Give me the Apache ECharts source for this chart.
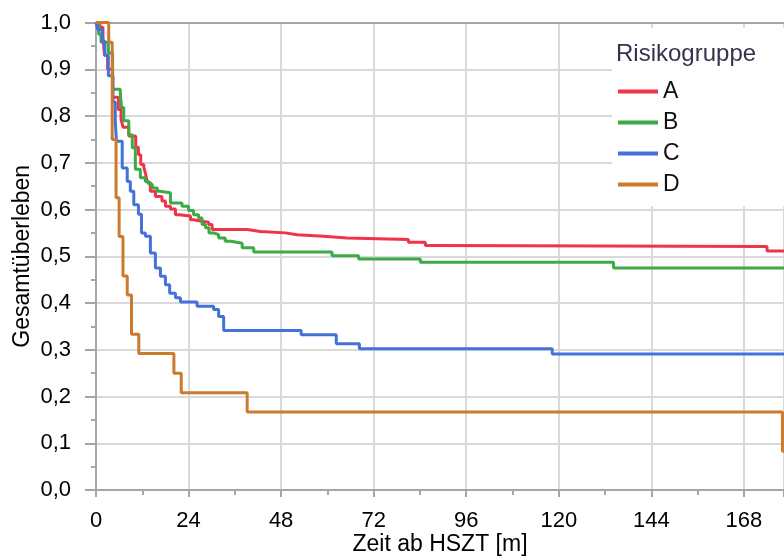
<!DOCTYPE html>
<html>
<head>
<meta charset="utf-8">
<script src="https://cdn.jsdelivr.net/npm/echarts@6/dist/echarts.min.js"></script>
<style>
html,body{margin:0;padding:0;background:#fff;}
#chart{width:784px;height:558px;}
</style>
</head>
<body>
<div id="chart"></div>
<script>
// ---- data (months, survival probability) ----
const groups = ['A', 'B', 'C', 'D'];
const xTicks = [0, 24, 48, 72, 96, 120, 144, 168];

const timeA = [0, 1.0, 1.8, 2.2, 3.0, 4.3, 5.8, 6.5, 7.0, 8.5, 10.3, 11.0, 11.6, 12.4, 12.9, 13.3, 14.1, 15.4, 17.1, 18.0, 19.3, 20.6, 21.5, 24.5, 25.3, 27.5, 29.2, 30.1, 39.2, 42.6, 49.1, 52.1, 59.0, 65.1, 81.0, 85.4, 88.4, 174.0, 178.4];
const survA = [1.0, 0.99, 0.97, 0.93, 0.90, 0.84, 0.814, 0.793, 0.776, 0.757, 0.733, 0.717, 0.696, 0.69, 0.675, 0.658, 0.639, 0.628, 0.618, 0.607, 0.601, 0.589, 0.586, 0.578, 0.575, 0.573, 0.568, 0.557, 0.553, 0.55, 0.546, 0.543, 0.539, 0.536, 0.53, 0.523, 0.521, 0.511, 0.511];

const timeB = [0, 0.7, 1.3, 3.2, 4.3, 6.3, 6.6, 7.2, 8.5, 9.4, 10.2, 11.5, 12.8, 13.7, 14.6, 15.9, 16.5, 19.3, 22.3, 24.0, 25.3, 26.6, 27.5, 28.4, 29.3, 30.5, 31.8, 33.5, 35.0, 37.9, 40.9, 61.2, 68.1, 84.1, 134.2, 178.4];
const survB = [1.0, 0.975, 0.958, 0.935, 0.857, 0.85, 0.818, 0.79, 0.76, 0.732, 0.686, 0.668, 0.66, 0.654, 0.646, 0.639, 0.636, 0.614, 0.607, 0.598, 0.589, 0.582, 0.568, 0.561, 0.55, 0.546, 0.539, 0.532, 0.528, 0.518, 0.509, 0.501, 0.494, 0.487, 0.475, 0.475];

const timeC = [0, 0.5, 1.6, 2.3, 3.2, 4.4, 5.0, 5.3, 6.8, 8.1, 8.9, 9.8, 11.0, 11.8, 12.8, 14.1, 15.4, 16.7, 18.0, 19.1, 20.6, 21.9, 26.2, 30.5, 31.8, 33.1, 53.2, 62.3, 68.3, 118.3, 178.4];
const survC = [1.0, 0.985, 0.96, 0.93, 0.886, 0.83, 0.79, 0.746, 0.689, 0.66, 0.639, 0.61, 0.59, 0.55, 0.543, 0.507, 0.475, 0.457, 0.439, 0.421, 0.411, 0.402, 0.393, 0.386, 0.371, 0.341, 0.332, 0.313, 0.302, 0.291, 0.291];

const timeD = [0, 3.3, 4.2, 5.2, 6.0, 7.0, 8.1, 9.2, 11.1, 20.2, 22.1, 39.2, 178.0, 178.4];
const survD = [1.0, 0.958, 0.75, 0.625, 0.542, 0.458, 0.417, 0.333, 0.292, 0.25, 0.208, 0.167, 0.083, 0.083];

const colors = ['#ef3349', '#3cab45', '#4472da', '#cc7a2c'];

function zip(t, s) { return t.map((v, i) => [v, s[i]]); }
const seriesData = [zip(timeA, survA), zip(timeB, survB), zip(timeC, survC), zip(timeD, survD)];

const FONT = '"Liberation Sans", Arial, sans-serif';
const axisGray = '#a6a6a6';
const gridGray = '#d9d9d9';
const X_MAX = 178.4;

const chart = echarts.init(document.getElementById('chart'), null, { renderer: 'canvas' });
chart.setOption({
  animation: false,
  backgroundColor: '#fff',
  textStyle: { fontFamily: FONT },
  grid: { left: 96, right: 0, top: 22.5, bottom: 68, containLabel: false, outerBoundsMode: 'none' },
  title: {
    text: 'Risikogruppe', left: 616, top: 42, padding: 0, z: 10,
    textStyle: { fontFamily: FONT, fontSize: 24, fontWeight: 'normal', color: '#33334d' }
  },
  legend: {
    data: groups, orient: 'vertical', left: 618, top: 80, padding: 0,
    icon: 'rect', itemWidth: 40, itemHeight: 4, itemGap: 8, z: 10,
    textStyle: { fontFamily: FONT, fontSize: 23, lineHeight: 22, color: '#111' }
  },
  graphic: [{
    type: 'rect', left: 612, top: 28, z: 5,
    shape: { width: 172, height: 178 },
    style: { fill: '#ffffff' }
  }],
  xAxis: [{
    type: 'value', min: 0, max: X_MAX, interval: 24,
    name: 'Zeit ab HSZT [m]', nameLocation: 'middle', nameGap: 43, nameMoveOverlap: false,
    nameTextStyle: { fontFamily: FONT, fontSize: 23, color: '#000' },
    axisLine: { show: true, onZero: false, lineStyle: { color: axisGray, width: 2 } },
    axisTick: { show: true, length: 7, lineStyle: { color: axisGray, width: 2 } },
    minorTick: { show: true, splitNumber: 2, length: 5, lineStyle: { color: axisGray, width: 2 } },
    axisLabel: {
      margin: 20, fontFamily: FONT, fontSize: 22, color: '#000',
      formatter: v => (xTicks.indexOf(v) >= 0 ? String(v) : '')
    },
    splitLine: { show: true, lineStyle: { color: gridGray, width: 2 } }
  }, {
    type: 'value', position: 'top', min: 0, max: X_MAX,
    axisLine: { show: true, onZero: false, lineStyle: { color: axisGray, width: 2 } },
    axisTick: { show: false }, axisLabel: { show: false }, splitLine: { show: false }
  }],
  yAxis: {
    type: 'value', min: 0, max: 1, interval: 0.1,
    name: 'Gesamtüberleben', nameLocation: 'middle', nameGap: 62, nameMoveOverlap: false,
    nameTextStyle: { fontFamily: FONT, fontSize: 23, color: '#000' },
    axisLine: { show: true, onZero: false, lineStyle: { color: axisGray, width: 2 } },
    axisTick: { show: true, length: 11, lineStyle: { color: axisGray, width: 2 } },
    minorTick: { show: true, splitNumber: 2, length: 5, lineStyle: { color: axisGray, width: 2 } },
    axisLabel: {
      margin: 25, fontFamily: FONT, fontSize: 22, color: '#000',
      formatter: v => v.toFixed(1).replace('.', ',')
    },
    splitLine: { show: true, lineStyle: { color: gridGray, width: 2 } }
  },
  series: groups.map((g, i) => ({
    name: g, type: 'line', step: 'end', data: seriesData[i],
    showSymbol: false, symbol: 'none', clip: true,
    color: colors[i],
    lineStyle: { color: colors[i], width: 3 }
  }))
});
</script>
</body>
</html>
